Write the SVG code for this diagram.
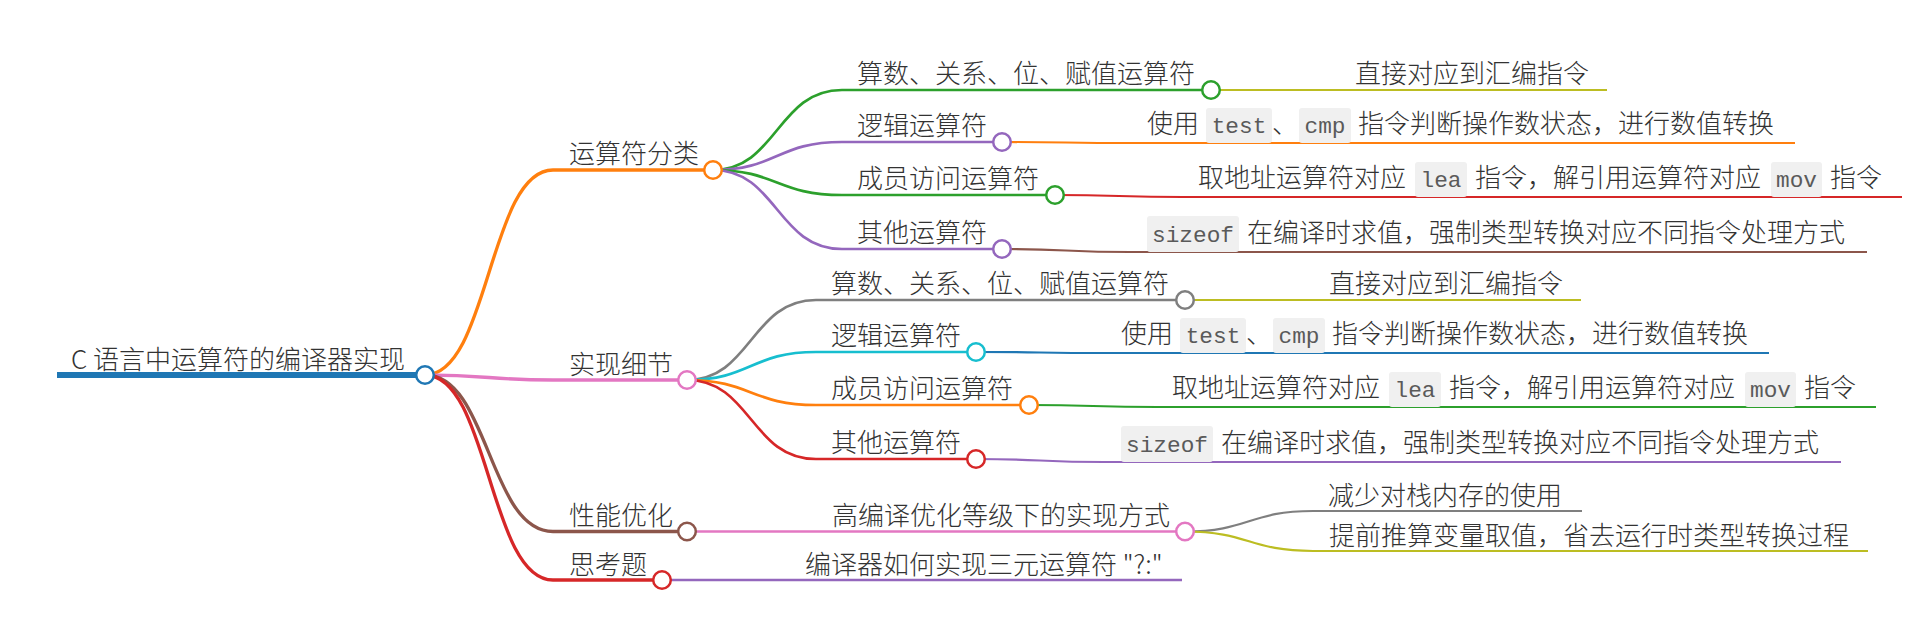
<svg xmlns="http://www.w3.org/2000/svg" width="1926" height="641" viewBox="0 0 1926 641">
<style>
.t{font-family:"Noto Sans CJK SC","Noto Sans",sans-serif;font-size:26px;font-weight:300;fill:#333}
.c{font-family:"Liberation Mono",monospace;font-size:22.75px;fill:#5a5a5a;text-anchor:middle}
.box{fill:#f0f0f0}
.dot{fill:#fff;stroke-width:2.5}
path{fill:none}
.w0{stroke-width:6}
.w1{stroke-width:3.3}
.w2{stroke-width:2.7}
.w3{stroke-width:2.2}
</style>
<rect width="1926" height="641" fill="#fff"/>
<g id="connectors">
<path class="w1" stroke="#ff7f0e" d="M425,375 C489,375 489,170 553,170"/>
<path class="w1" stroke="#e377c2" d="M425,375 C489,375 489,380 553,380"/>
<path class="w1" stroke="#8c564b" d="M425,375 C489,375 489,531.5 553,531.5"/>
<path class="w1" stroke="#d62728" d="M425,375 C489,375 489,580 553,580"/>
<path class="w2" stroke="#2ca02c" d="M713,170 C777,170 777,90 842,90"/>
<path class="w2" stroke="#9467bd" d="M713,170 C777,170 777,142 842,142"/>
<path class="w2" stroke="#2ca02c" d="M713,170 C777,170 777,195 842,195"/>
<path class="w2" stroke="#9467bd" d="M713,170 C777,170 777,249 842,249"/>
<path class="w3" stroke="#bcbd22" d="M1211,90 H1339"/>
<path class="w3" stroke="#ff7f0e" d="M1002,142 C1066,142 1066,143 1130,143"/>
<path class="w3" stroke="#d62728" d="M1055,195 C1119,195 1119,197 1183,197"/>
<path class="w3" stroke="#8c564b" d="M1002,249 C1066,249 1066,252 1130,252"/>
<path class="w2" stroke="#7f7f7f" d="M687,380 C751,380 751,300 816,300"/>
<path class="w2" stroke="#17becf" d="M687,380 C751,380 751,352 816,352"/>
<path class="w2" stroke="#ff7f0e" d="M687,380 C751,380 751,405 816,405"/>
<path class="w2" stroke="#d62728" d="M687,380 C751,380 751,459 816,459"/>
<path class="w3" stroke="#bcbd22" d="M1185,300 H1313"/>
<path class="w3" stroke="#1f77b4" d="M976,352 C1040,352 1040,353 1104,353"/>
<path class="w3" stroke="#2ca02c" d="M1029,405 C1093,405 1093,407 1157,407"/>
<path class="w3" stroke="#9467bd" d="M976,459 C1040,459 1040,462 1104,462"/>
<path class="w2" stroke="#e377c2" d="M687,531.5 H815"/>
<path class="w3" stroke="#7f7f7f" d="M1185,531.5 C1249,531.5 1249,511 1313,511"/>
<path class="w3" stroke="#bcbd22" d="M1185,531.5 C1249,531.5 1249,551 1313,551"/>
<path class="w2" stroke="#9467bd" d="M662,580 H790"/>
</g>

<g id="root">
<path class="w0" stroke="#1f77b4" d="M57,375 H425"/>
<text class="t" x="71" y="369">C 语言中运算符的编译器实现</text>
<circle class="dot" stroke="#1f77b4" cx="425" cy="375" r="8.8"/>
</g>

<g id="n-classify">
<path class="w1" stroke="#ff7f0e" d="M553,170 H713"/>
<text class="t" x="569" y="163">运算符分类</text>
<circle class="dot" stroke="#ff7f0e" cx="713" cy="170" r="8.8"/>
</g>
<g id="n-c-arith">
<path class="w2" stroke="#2ca02c" d="M842,90 H1211"/>
<text class="t" x="857" y="83">算数、关系、位、赋值运算符</text>
<circle class="dot" stroke="#2ca02c" cx="1211" cy="90" r="8.8"/>
</g>
<g id="n-c-arith-1">
<path class="w3" stroke="#bcbd22" d="M1339,90 H1607"/>
<text class="t" x="1355" y="83">直接对应到汇编指令</text>
</g>
<g id="n-c-logic">
<path class="w2" stroke="#9467bd" d="M842,142 H1002"/>
<text class="t" x="857" y="135">逻辑运算符</text>
<circle class="dot" stroke="#9467bd" cx="1002" cy="142" r="8.8"/>
</g>
<g id="n-c-logic-1">
<path class="w3" stroke="#ff7f0e" d="M1130,143 H1795"/>
<text class="t" x="1147" y="132.5">使用</text>
<rect class="box" x="1206" y="108" width="66" height="35" rx="3"/>
<text class="c" x="1239" y="133">test</text>
<text class="t" x="1272" y="132.5">、</text>
<rect class="box" x="1299" y="108" width="52" height="35" rx="3"/>
<text class="c" x="1325" y="133">cmp</text>
<text class="t" x="1358" y="132.5">指令判断操作数状态，进行数值转换</text>
</g>
<g id="n-c-member">
<path class="w2" stroke="#2ca02c" d="M842,195 H1055"/>
<text class="t" x="857" y="188">成员访问运算符</text>
<circle class="dot" stroke="#2ca02c" cx="1055" cy="195" r="8.8"/>
</g>
<g id="n-c-member-1">
<path class="w3" stroke="#d62728" d="M1183,197 H1902"/>
<text class="t" x="1198" y="186.5">取地址运算符对应</text>
<rect class="box" x="1415" y="162" width="52" height="35" rx="3"/>
<text class="c" x="1441" y="187">lea</text>
<text class="t" x="1475" y="186.5">指令，解引用运算符对应</text>
<rect class="box" x="1771" y="162" width="51" height="35" rx="3"/>
<text class="c" x="1796.5" y="187">mov</text>
<text class="t" x="1830" y="186.5">指令</text>
</g>
<g id="n-c-other">
<path class="w2" stroke="#9467bd" d="M842,249 H1002"/>
<text class="t" x="857" y="242">其他运算符</text>
<circle class="dot" stroke="#9467bd" cx="1002" cy="249" r="8.8"/>
</g>
<g id="n-c-other-1">
<path class="w3" stroke="#8c564b" d="M1130,252 H1867"/>
<rect class="box" x="1147" y="216" width="92" height="36" rx="3"/>
<text class="c" x="1193" y="242">sizeof</text>
<text class="t" x="1247" y="241.5">在编译时求值，强制类型转换对应不同指令处理方式</text>
</g>

<g id="n-detail">
<path class="w1" stroke="#e377c2" d="M553,380 H687"/>
<text class="t" x="569" y="374">实现细节</text>
<circle class="dot" stroke="#e377c2" cx="687" cy="380" r="8.8"/>
</g>
<g id="n-d-arith">
<path class="w2" stroke="#7f7f7f" d="M816,300 H1185"/>
<text class="t" x="831" y="293">算数、关系、位、赋值运算符</text>
<circle class="dot" stroke="#7f7f7f" cx="1185" cy="300" r="8.8"/>
</g>
<g id="n-d-arith-1">
<path class="w3" stroke="#bcbd22" d="M1313,300 H1581"/>
<text class="t" x="1329" y="293">直接对应到汇编指令</text>
</g>
<g id="n-d-logic">
<path class="w2" stroke="#17becf" d="M816,352 H976"/>
<text class="t" x="831" y="345">逻辑运算符</text>
<circle class="dot" stroke="#17becf" cx="976" cy="352" r="8.8"/>
</g>
<g id="n-d-logic-1">
<path class="w3" stroke="#1f77b4" d="M1104,353 H1769"/>
<text class="t" x="1121" y="342.5">使用</text>
<rect class="box" x="1180" y="318" width="66" height="35" rx="3"/>
<text class="c" x="1213" y="343">test</text>
<text class="t" x="1246" y="342.5">、</text>
<rect class="box" x="1273" y="318" width="52" height="35" rx="3"/>
<text class="c" x="1299" y="343">cmp</text>
<text class="t" x="1332" y="342.5">指令判断操作数状态，进行数值转换</text>
</g>
<g id="n-d-member">
<path class="w2" stroke="#ff7f0e" d="M816,405 H1029"/>
<text class="t" x="831" y="398">成员访问运算符</text>
<circle class="dot" stroke="#ff7f0e" cx="1029" cy="405" r="8.8"/>
</g>
<g id="n-d-member-1">
<path class="w3" stroke="#2ca02c" d="M1157,407 H1876"/>
<text class="t" x="1172" y="396.5">取地址运算符对应</text>
<rect class="box" x="1389" y="372" width="52" height="35" rx="3"/>
<text class="c" x="1415" y="397">lea</text>
<text class="t" x="1449" y="396.5">指令，解引用运算符对应</text>
<rect class="box" x="1745" y="372" width="51" height="35" rx="3"/>
<text class="c" x="1770.5" y="397">mov</text>
<text class="t" x="1804" y="396.5">指令</text>
</g>
<g id="n-d-other">
<path class="w2" stroke="#d62728" d="M816,459 H976"/>
<text class="t" x="831" y="452">其他运算符</text>
<circle class="dot" stroke="#d62728" cx="976" cy="459" r="8.8"/>
</g>
<g id="n-d-other-1">
<path class="w3" stroke="#9467bd" d="M1104,462 H1841"/>
<rect class="box" x="1121" y="426" width="92" height="36" rx="3"/>
<text class="c" x="1167" y="452">sizeof</text>
<text class="t" x="1221" y="451.5">在编译时求值，强制类型转换对应不同指令处理方式</text>
</g>

<g id="n-perf">
<path class="w1" stroke="#8c564b" d="M553,531.5 H687"/>
<text class="t" x="569" y="525">性能优化</text>
<circle class="dot" stroke="#8c564b" cx="687" cy="531.5" r="8.8"/>
</g>
<g id="n-p-high">
<path class="w2" stroke="#e377c2" d="M815,531.5 H1185"/>
<text class="t" x="832" y="525">高编译优化等级下的实现方式</text>
<circle class="dot" stroke="#e377c2" cx="1185" cy="531.5" r="8.8"/>
</g>
<g id="n-p-stack">
<path class="w3" stroke="#7f7f7f" d="M1313,511 H1582"/>
<text class="t" x="1328" y="504.5">减少对栈内存的使用</text>
</g>
<g id="n-p-pre">
<path class="w3" stroke="#bcbd22" d="M1313,551 H1868"/>
<text class="t" x="1329" y="544.5">提前推算变量取值，省去运行时类型转换过程</text>
</g>

<g id="n-think">
<path class="w1" stroke="#d62728" d="M553,580 H662"/>
<text class="t" x="569" y="574">思考题</text>
<circle class="dot" stroke="#d62728" cx="662" cy="580" r="8.8"/>
</g>
<g id="n-t-q">
<path class="w2" stroke="#9467bd" d="M790,580 H1182"/>
<text class="t" x="805" y="574">编译器如何实现三元运算符 "?:"</text>
</g>
</svg>
